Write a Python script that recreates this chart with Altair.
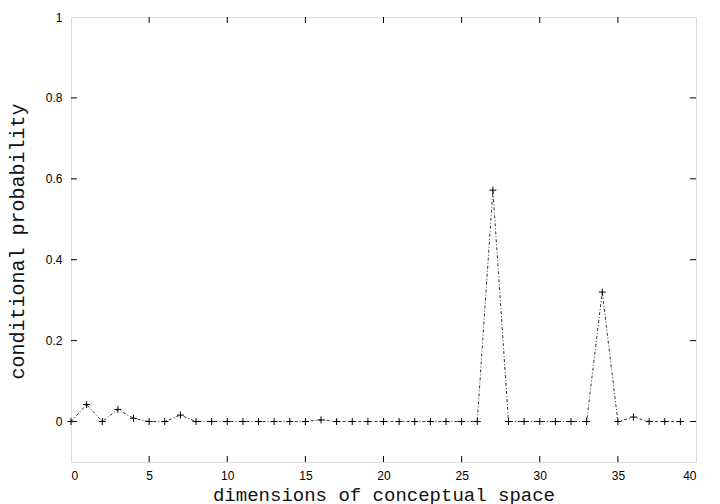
import altair as alt
import pandas as pd

# data
dims = list(range(40))
probs = [0.0, 0.042, 0.0, 0.030, 0.008, 0.0, 0.0, 0.016, 0.0, 0.0,
         0.0, 0.0, 0.0, 0.0, 0.0, 0.0, 0.004, 0.0, 0.0, 0.0,
         0.0, 0.0, 0.0, 0.0, 0.0, 0.0, 0.0, 0.572, 0.0, 0.0,
         0.0, 0.0, 0.0, 0.0, 0.320, 0.0, 0.011, 0.0, 0.0, 0.0]
x_ticks = [0, 5, 10, 15, 20, 25, 30, 35, 40]
y_ticks = [0, 0.2, 0.4, 0.6, 0.8, 1]

df = pd.DataFrame({"dim": dims, "p": probs})
xt = pd.DataFrame({"t": x_ticks[1:-1]})
yt = pd.DataFrame({"t": y_ticks[:-1]})

xs = alt.Scale(domain=[0, 40], nice=False, zero=False)
ys = alt.Scale(domain=[-0.1, 1], nice=False, zero=False)

x_axis = alt.Axis(values=x_ticks, ticks=False, domain=False, grid=False,
                  labelPadding=8, labelFont="Liberation Sans", labelFontSize=12,
                  labelColor="black", title="dimensions of conceptual space",
                  titleFont="Liberation Mono", titleFontSize=19, titleFontWeight="normal",
                  titleColor="#111111", titleY=38, titleBaseline="alphabetic")
y_axis = alt.Axis(values=y_ticks, format="~g", ticks=False, domain=False, grid=False,
                  labelPadding=9, labelFont="Liberation Sans", labelFontSize=12,
                  labelColor="black", title="conditional probability",
                  titleFont="Liberation Mono", titleFontSize=20, titleFontWeight="normal",
                  titleColor="#111111", titleX=-54, titleY=224, titleAngle=270,
                  titleAlign="center", titleBaseline="middle")

line = alt.Chart(df).mark_line(color="#333333", strokeWidth=1, strokeDash=[3, 2, 1, 2]).encode(
    x=alt.X("dim:Q", scale=xs, axis=x_axis),
    y=alt.Y("p:Q", scale=ys, axis=y_axis),
)
pts = alt.Chart(df).mark_point(shape="M-1,0L1,0M0,-1L0,1", filled=False, size=49,
                               color="black", strokeWidth=1, opacity=1).encode(
    x=alt.X("dim:Q", scale=xs), y=alt.Y("p:Q", scale=ys))

tick_style = dict(color="black", strokeWidth=1)
bottom = alt.Chart(xt).mark_rule(y2Offset=-6, **tick_style).encode(
    x=alt.X("t:Q", scale=xs), y=alt.datum(-0.1), y2=alt.datum(-0.1))
top = alt.Chart(xt).mark_rule(y2Offset=6, **tick_style).encode(
    x=alt.X("t:Q", scale=xs), y=alt.datum(1), y2=alt.datum(1))
left = alt.Chart(yt).mark_rule(x2Offset=6, **tick_style).encode(
    y=alt.Y("t:Q", scale=ys), x=alt.datum(0), x2=alt.datum(0))
right = alt.Chart(yt).mark_rule(x2Offset=-6, **tick_style).encode(
    y=alt.Y("t:Q", scale=ys), x=alt.datum(40), x2=alt.datum(40))

chart = alt.layer(line, pts, bottom, top, left, right).properties(
    width=625, height=445,
    autosize=alt.AutoSizeParams(type="none"),
    padding={"left": 63, "top": 9, "right": 16, "bottom": 42},
).configure_view(stroke="black", strokeWidth=1.5).configure(background="white")

chart.save("out.html", embed_options={"renderer": "svg", "actions": False})
